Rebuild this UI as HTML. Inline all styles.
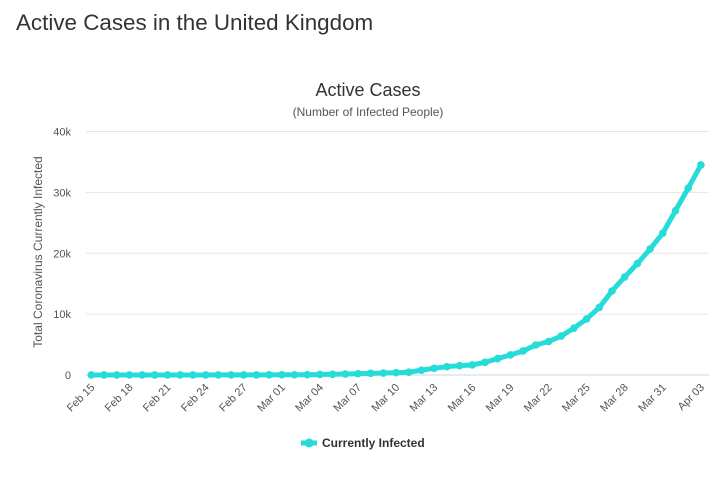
<!DOCTYPE html>
<html><head><meta charset="utf-8">
<style>
body{margin:0;background:#fff;width:726px;height:502px;overflow:hidden;font-family:"Liberation Sans",sans-serif;}
#h{position:absolute;left:16px;top:10px;font-size:22.4px;color:#333;margin:0;font-weight:normal;}
svg{position:absolute;left:0;top:0;}
</style></head><body>
<h1 id="h">Active Cases in the United Kingdom</h1>
<svg id="c" width="726" height="502"></svg>
<script>
const categories=["Feb 15","Feb 16","Feb 17","Feb 18","Feb 19","Feb 20","Feb 21","Feb 22","Feb 23","Feb 24","Feb 25","Feb 26","Feb 27","Feb 28","Feb 29","Mar 01","Mar 02","Mar 03","Mar 04","Mar 05","Mar 06","Mar 07","Mar 08","Mar 09","Mar 10","Mar 11","Mar 12","Mar 13","Mar 14","Mar 15","Mar 16","Mar 17","Mar 18","Mar 19","Mar 20","Mar 21","Mar 22","Mar 23","Mar 24","Mar 25","Mar 26","Mar 27","Mar 28","Mar 29","Mar 30","Mar 31","Apr 01","Apr 02","Apr 03"];
const infected=[9,9,9,9,9,9,9,9,9,9,13,13,15,20,23,35,40,51,85,115,163,206,273,321,373,456,800,1100,1370,1530,1650,2080,2700,3300,3950,4930,5500,6400,7700,9200,11100,13800,16100,18300,20700,23300,27000,30700,34500];
const yTicks=[0,10000,20000,30000,40000];
const yTickLabels=["0","10k","20k","30k","40k"];
const NS="http://www.w3.org/2000/svg";
const svg=document.getElementById('c');
const X0=91.3,DX=12.7,Y0=375,YS=(375-131.5)/40000;
const xs=i=>X0+DX*i, ys=v=>Y0-v*YS;
function mk(t,a,p){const e=document.createElementNS(NS,t);for(const k in a)e.setAttribute(k,a[k]);(p||svg).appendChild(e);return e;}
function txt(s,a){const e=mk('text',a);e.textContent=s;return e;}
let t=txt("Active Cases",{x:368,y:96,'text-anchor':'middle','font-size':18,fill:'#333'});


t=txt("(Number of Infected People)",{x:368,y:116,'text-anchor':'middle','font-size':12,fill:'#555'});


t=txt("Total Coronavirus Currently Infected",{x:0,y:0,transform:'translate(42,252) rotate(-90)','text-anchor':'middle','font-size':12,fill:'#555'});


yTicks.forEach((v,i)=>{
  const g=mk('line',{x1:86,x2:709,y1:ys(v),y2:ys(v),stroke:i===0?'#ccd6eb':'#e6e6e6','stroke-width':1});
  
  
  const l=txt(yTickLabels[i],{x:71,y:ys(v)+4,'text-anchor':'end','font-size':11,fill:'#555'});
  
  
});
categories.forEach((c,i)=>{
  if(i%3!==0)return;
  const l=txt(c,{x:0,y:0,transform:`translate(${xs(i)+4},${388}) rotate(-45)`,'text-anchor':'end','font-size':11,fill:'#555'});
  
  
});
const line=mk('polyline',{points:infected.map((v,i)=>xs(i)+','+ys(v)).join(' '),fill:'none',stroke:'#26dcd8','stroke-width':5,'stroke-linejoin':'round','stroke-linecap':'round'});


infected.forEach((v,i)=>{
  const p=mk('circle',{cx:xs(i),cy:ys(v),r:3.8,fill:'#26dcd8'});
  
  
});
const lg=mk('g',{});


mk('line',{x1:301,x2:317,y1:443,y2:443,stroke:'#26dcd8','stroke-width':5},lg);
mk('circle',{cx:309,cy:443,r:4.5,fill:'#26dcd8'},lg);
const lt=document.createElementNS(NS,'text');
lt.setAttribute('x',322);lt.setAttribute('y',447);lt.setAttribute('font-size',12);lt.setAttribute('font-weight','bold');lt.setAttribute('fill','#333');
lt.textContent="Currently Infected";lg.appendChild(lt);
</script>
</body></html>
